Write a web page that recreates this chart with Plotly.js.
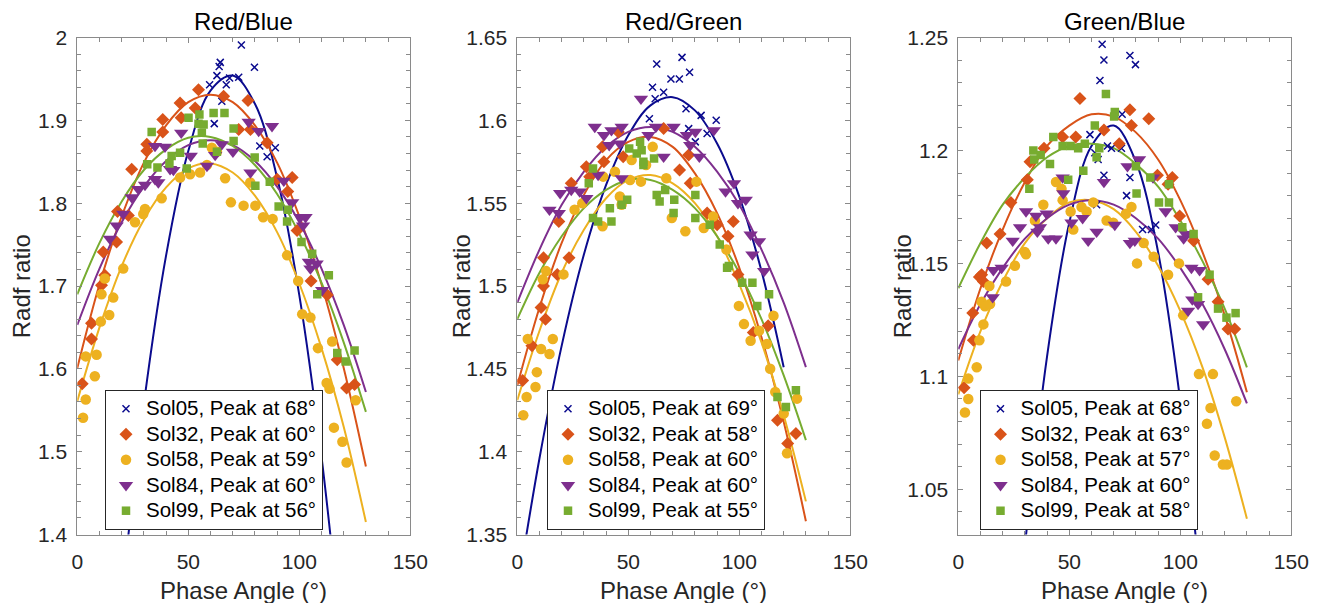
<!DOCTYPE html>
<html>
<head>
<meta charset="utf-8">
<script src="https://cdn.plot.ly/plotly-3.0.1.min.js"></script>
<style>
html,body{margin:0;padding:0;background:#fff;}
#chart{width:1325px;height:603px;}
</style>
</head>
<body>
<div id="chart"></div>
<script>
// ---------- categories / labels ----------
const SERIES = ['Sol05', 'Sol32', 'Sol58', 'Sol84', 'Sol99'];
const PANEL_TITLES = ['Red/Blue', 'Red/Green', 'Green/Blue'];
const PEAKS_RB = [68, 60, 59, 60, 56];
const PEAKS_RG = [69, 58, 60, 60, 55];
const PEAKS_GB = [68, 63, 57, 60, 58];
const X_TICKS = [0, 50, 100, 150];

// ---------- Red/Blue measurements [phase angle, ratio] ----------
const RB_05 = [[59.6,1.943],[61.7,1.896],[62.9,1.954],[63.9,1.965],[64.4,1.970],[65.1,1.923],[67.1,1.943],[68.6,1.951],[72.7,1.952],[73.9,1.991],[79.8,1.964],[82.2,1.869],[85.5,1.856],[89.2,1.867]];
const RB_32 = [[2.2,1.582],[6.4,1.636],[6.4,1.655],[10.9,1.701],[12.4,1.713],[11.7,1.741],[17.7,1.753],[18.1,1.790],[23.0,1.785],[24.5,1.841],[31.3,1.863],[31.3,1.871],[38.5,1.886],[38.5,1.901],[46.3,1.921],[46.8,1.903],[53.1,1.915],[54.6,1.937],[65.9,1.929],[72.7,1.889],[76.9,1.924],[78.0,1.889],[85.5,1.873],[90.0,1.829],[94.8,1.814],[96.8,1.831],[99.0,1.767],[105.3,1.706],[112.6,1.689],[117.1,1.611],[121.3,1.577],[124.9,1.581]];
const RB_58 = [[2.6,1.541],[3.8,1.563],[3.8,1.615],[7.9,1.591],[8.7,1.617],[10.6,1.657],[10.9,1.690],[12.4,1.709],[14.4,1.665],[16.2,1.686],[20.7,1.721],[26.0,1.777],[29.7,1.787],[30.5,1.793],[38.0,1.806],[46.3,1.831],[50.8,1.835],[55.3,1.837],[58.4,1.846],[60.6,1.867],[62.9,1.862],[66.6,1.830],[69.2,1.801],[74.9,1.797],[77.9,1.825],[80.2,1.797],[83.7,1.783],[88.0,1.781],[94.5,1.737],[99.5,1.706],[101.3,1.666],[105.0,1.662],[108.4,1.625],[112.3,1.583],[113.6,1.576],[114.8,1.633],[115.6,1.529],[119.4,1.512],[121.3,1.487],[125.4,1.562]];
const RB_84 = [[14.7,1.757],[17.7,1.773],[20.7,1.787],[24.5,1.807],[27.5,1.817],[30.5,1.822],[35.0,1.829],[35.0,1.869],[36.5,1.825],[39.5,1.868],[41.8,1.841],[43.3,1.840],[46.8,1.885],[51.1,1.857],[58.4,1.845],[62.1,1.858],[65.1,1.871],[70.1,1.862],[77.2,1.898],[78.0,1.837],[81.7,1.887],[87.7,1.893],[93.0,1.827],[96.8,1.801],[100.5,1.783],[101.7,1.773],[102.8,1.783],[104.3,1.729],[105.0,1.721],[107.8,1.727],[110.3,1.695]];
const RB_99 = [[31.5,1.847],[33.5,1.886],[36.1,1.843],[41.5,1.848],[42.5,1.857],[46.3,1.861],[49.3,1.842],[50.1,1.903],[54.6,1.896],[55.0,1.907],[56.1,1.885],[56.5,1.872],[56.9,1.895],[61.4,1.909],[62.9,1.862],[66.3,1.909],[70.4,1.890],[70.4,1.875],[79.9,1.855],[80.2,1.821],[86.7,1.826],[90.7,1.796],[94.5,1.778],[94.8,1.792],[101.0,1.753],[105.8,1.739],[108.1,1.690],[113.3,1.713],[117.1,1.619],[120.9,1.609],[124.9,1.622]];

// ---------- Red/Green measurements ----------
const RG_05 = [[59.5,1.601],[60.9,1.620],[62.1,1.613],[62.8,1.634],[65.9,1.617],[69.2,1.625],[73.0,1.625],[74.2,1.638],[76.0,1.607],[77.2,1.595],[77.6,1.629],[80.2,1.587],[82.8,1.603],[85.5,1.592],[89.6,1.600]];
const RG_32 = [[2.4,1.443],[6.6,1.464],[10.7,1.487],[11.8,1.500],[11.8,1.517],[12.7,1.480],[18.0,1.507],[18.7,1.539],[23.3,1.517],[24.3,1.562],[31.1,1.572],[32.6,1.566],[38.4,1.584],[39.0,1.575],[45.5,1.593],[47.7,1.578],[65.9,1.595],[73.1,1.570],[77.2,1.579],[77.9,1.562],[85.5,1.544],[90.0,1.537],[94.9,1.530],[97.3,1.539],[99.4,1.507],[106.3,1.472],[113.0,1.476],[117.2,1.419],[121.8,1.405],[125.5,1.411]];
const RG_58 = [[2.7,1.422],[4.2,1.433],[4.7,1.468],[8.2,1.439],[8.8,1.448],[10.7,1.462],[11.5,1.504],[13.0,1.509],[14.5,1.459],[16.0,1.468],[20.8,1.507],[25.8,1.546],[29.3,1.550],[38.4,1.536],[38.7,1.566],[44.0,1.569],[46.2,1.554],[47.0,1.549],[50.8,1.564],[51.5,1.576],[55.7,1.563],[58.0,1.573],[61.0,1.584],[67.1,1.565],[69.6,1.541],[75.7,1.533],[80.7,1.563],[84.0,1.535],[88.2,1.542],[94.2,1.522],[99.8,1.488],[102.1,1.477],[105.1,1.467],[108.9,1.473],[112.4,1.465],[113.9,1.450],[115.4,1.482],[116.2,1.436],[120.0,1.423],[121.5,1.399],[126.0,1.432]];
const RG_84 = [[14.5,1.546],[18.7,1.544],[19.3,1.556],[24.3,1.558],[28.1,1.557],[31.1,1.553],[34.9,1.596],[36.4,1.567],[39.0,1.591],[41.4,1.585],[42.4,1.594],[46.2,1.586],[47.0,1.596],[47.0,1.565],[55.7,1.613],[59.1,1.591],[62.4,1.596],[65.9,1.578],[70.4,1.596],[76.4,1.591],[77.9,1.585],[80.2,1.593],[82.0,1.578],[88.5,1.594],[93.8,1.557],[97.6,1.562],[99.4,1.550],[102.9,1.552],[105.1,1.531],[105.9,1.519],[108.9,1.527],[111.2,1.509]];
const RG_99 = [[32.2,1.562],[34.1,1.571],[34.1,1.541],[36.4,1.539],[41.7,1.547],[42.4,1.539],[47.0,1.549],[49.5,1.552],[50.4,1.583],[53.8,1.580],[55.3,1.587],[56.0,1.582],[56.8,1.575],[56.8,1.573],[61.6,1.577],[62.8,1.555],[64.1,1.551],[66.6,1.558],[70.4,1.544],[70.7,1.552],[80.2,1.555],[80.2,1.541],[86.7,1.537],[91.2,1.525],[94.5,1.511],[95.3,1.512],[101.3,1.502],[105.9,1.502],[108.1,1.488],[113.4,1.495],[117.2,1.433],[121.0,1.427],[125.5,1.437]];

// ---------- Green/Blue measurements ----------
const GB_05 = [[59.3,1.207],[61.5,1.199],[62.3,1.176],[63.0,1.196],[63.8,1.231],[64.8,1.247],[65.6,1.240],[65.6,1.189],[67.2,1.202],[69.0,1.201],[73.5,1.201],[73.8,1.216],[75.8,1.180],[77.3,1.242],[77.3,1.188],[79.8,1.238],[83.0,1.165],[87.0,1.165],[88.9,1.167]];
const GB_32 = [[2.6,1.095],[6.5,1.128],[6.8,1.116],[9.5,1.144],[10.5,1.145],[11.3,1.142],[12.8,1.159],[18.8,1.163],[23.7,1.177],[31.1,1.187],[32.3,1.195],[38.6,1.201],[47.0,1.206],[52.9,1.206],[54.8,1.223],[65.6,1.209],[72.5,1.203],[77.3,1.218],[78.0,1.211],[85.8,1.214],[89.7,1.189],[94.5,1.185],[96.4,1.188],[99.7,1.171],[106.0,1.160],[112.5,1.143],[117.0,1.133],[121.5,1.121],[124.5,1.121]];
const GB_58 = [[3.0,1.084],[4.5,1.090],[4.5,1.099],[8.3,1.104],[9.5,1.116],[10.5,1.133],[11.3,1.123],[12.0,1.131],[14.0,1.140],[14.3,1.132],[21.5,1.142],[25.5,1.149],[30.0,1.155],[30.5,1.154],[34.5,1.169],[38.3,1.176],[44.0,1.186],[46.5,1.183],[47.0,1.178],[50.6,1.173],[51.8,1.165],[55.5,1.175],[57.8,1.173],[60.8,1.177],[66.8,1.169],[69.8,1.168],[75.5,1.172],[78.0,1.175],[80.5,1.150],[83.5,1.159],[88.0,1.153],[94.5,1.145],[99.4,1.150],[101.3,1.127],[108.4,1.101],[112.0,1.079],[113.6,1.086],[114.7,1.101],[115.5,1.065],[119.2,1.061],[121.0,1.061],[125.2,1.089]];
const GB_84 = [[15.5,1.135],[15.8,1.147],[19.5,1.148],[24.5,1.160],[27.8,1.166],[30.5,1.173],[35.0,1.171],[35.6,1.164],[36.8,1.166],[39.8,1.172],[40.5,1.161],[44.0,1.161],[47.0,1.188],[47.3,1.181],[51.0,1.168],[56.0,1.170],[58.5,1.160],[62.3,1.164],[65.6,1.186],[70.5,1.167],[76.2,1.193],[77.3,1.159],[79.5,1.160],[81.4,1.196],[87.7,1.188],[93.4,1.173],[97.9,1.166],[101.5,1.161],[102.4,1.163],[103.5,1.129],[105.0,1.148],[105.4,1.134],[108.0,1.132],[108.7,1.147],[110.3,1.123]];
const GB_99 = [[32.0,1.183],[33.8,1.200],[34.2,1.196],[37.1,1.198],[41.3,1.194],[42.8,1.206],[47.0,1.202],[49.5,1.187],[50.6,1.202],[54.0,1.201],[56.3,1.191],[57.0,1.203],[61.5,1.211],[62.3,1.197],[63.5,1.201],[66.5,1.225],[70.2,1.215],[70.5,1.217],[80.0,1.193],[80.3,1.181],[86.5,1.188],[90.4,1.177],[94.9,1.185],[94.9,1.177],[100.9,1.166],[106.0,1.163],[108.0,1.135],[113.2,1.145],[117.0,1.130],[120.8,1.126],[124.9,1.128]];

// ---------- fitted curves ----------
const FIT_X = [0,10,20,30,40,50,60,70,80,90,100,110,120,130];
const FIT_X_05 = [20,30,40,50,60,70,80,90,100,110,120];
const FIT_X_05_GB = [20,25,30,40,50,60,70,80,90,100,110,120];
const RB_FIT_05 = [1.325,1.558,1.737,1.863,1.936,1.954,1.920,1.831,1.689,1.494,1.244];
const RB_FIT_32 = [1.601,1.702,1.784,1.849,1.894,1.922,1.931,1.922,1.894,1.849,1.784,1.702,1.601,1.482];
const RB_FIT_58 = [1.561,1.650,1.724,1.780,1.819,1.842,1.848,1.837,1.809,1.765,1.703,1.625,1.530,1.415];
const RB_FIT_84 = [1.653,1.721,1.777,1.820,1.851,1.870,1.876,1.870,1.851,1.820,1.777,1.721,1.653,1.572];
const RB_FIT_99 = [1.690,1.752,1.802,1.840,1.865,1.879,1.880,1.869,1.846,1.811,1.763,1.704,1.632,1.548];
const RG_FIT_05 = [1.464,1.519,1.561,1.591,1.609,1.614,1.606,1.586,1.554,1.509,1.451];
const RG_FIT_05_EXT = [1.316,1.396];
const RG_FIT_32 = [1.440,1.487,1.526,1.555,1.576,1.587,1.590,1.584,1.568,1.544,1.511,1.469,1.418,1.358];
const RG_FIT_58 = [1.431,1.473,1.508,1.534,1.553,1.564,1.567,1.562,1.550,1.530,1.501,1.466,1.422,1.370];
const RG_FIT_84 = [1.490,1.522,1.549,1.569,1.584,1.593,1.596,1.593,1.584,1.569,1.549,1.522,1.490,1.451];
const RG_FIT_99 = [1.480,1.508,1.530,1.547,1.558,1.564,1.564,1.558,1.547,1.530,1.508,1.480,1.446,1.407];
const GB_FIT_05 = [0.917,0.974,1.025,1.109,1.168,1.202,1.211,1.195,1.155,1.089,0.999,0.883];
const GB_FIT_32 = [1.107,1.139,1.165,1.186,1.202,1.211,1.216,1.215,1.208,1.196,1.178,1.155,1.127,1.093];
const GB_FIT_58 = [1.092,1.120,1.142,1.159,1.170,1.177,1.178,1.174,1.164,1.149,1.129,1.104,1.073,1.037];
const GB_FIT_84 = [1.112,1.132,1.148,1.161,1.170,1.176,1.178,1.176,1.170,1.161,1.148,1.132,1.112,1.088];
const GB_FIT_99 = [1.139,1.159,1.176,1.188,1.197,1.202,1.203,1.201,1.194,1.184,1.169,1.151,1.130,1.104];

// ---------- styles ----------
const COLORS = ['#0b0b8e', '#D95319', '#EDB120', '#7E2F8E', '#77AC30'];
const SYMBOLS = ['x-thin', 'diamond', 'circle', 'triangle-down', 'square'];
const SIZES = [7, 10, 10.5, 12.5, 8.5];
const FONT = 'Liberation Sans, Arial, Helvetica, sans-serif';

const panels = [
  {title: PANEL_TITLES[0], peaks: PEAKS_RB, pts: [RB_05, RB_32, RB_58, RB_84, RB_99],
   fits: [[FIT_X_05, RB_FIT_05], [FIT_X, RB_FIT_32], [FIT_X, RB_FIT_58], [FIT_X, RB_FIT_84], [FIT_X, RB_FIT_99]],
   yr: [1.4, 2], dt: 0.1, mdt: 0.02},
  {title: PANEL_TITLES[1], peaks: PEAKS_RG, pts: [RG_05, RG_32, RG_58, RG_84, RG_99],
   fits: [[[0, 10].concat(FIT_X_05), RG_FIT_05_EXT.concat(RG_FIT_05)], [FIT_X, RG_FIT_32], [FIT_X, RG_FIT_58], [FIT_X, RG_FIT_84], [FIT_X, RG_FIT_99]],
   yr: [1.35, 1.65], dt: 0.05, mdt: 0.01},
  {title: PANEL_TITLES[2], peaks: PEAKS_GB, pts: [GB_05, GB_32, GB_58, GB_84, GB_99],
   fits: [[FIT_X_05_GB, GB_FIT_05], [FIT_X, GB_FIT_32], [FIT_X, GB_FIT_58], [FIT_X, GB_FIT_84], [FIT_X, GB_FIT_99]],
   yr: [1.03, 1.25], dt: 0.05, mdt: 0.01}
];

// pixel geometry of the plotting boxes
const W = 1325, H = 603;
const BOX_L = [77.3, 517.3, 958.3], BOX_W = 333;
const BOX_T = 37.5, BOX_B = 534.5;
const LEG_L = [105, 547, 979.5], LEG_B = 530;

const traces = [];
const layout = {
  width: W, height: H,
  margin: {l: 0, r: 0, t: 0, b: 0},
  paper_bgcolor: '#ffffff', plot_bgcolor: '#ffffff',
  font: {family: FONT, color: '#262626'},
  showlegend: true,
  annotations: []
};

panels.forEach((p, i) => {
  const n = i === 0 ? '' : String(i + 1);
  const xa = 'x' + n, ya = 'y' + n;
  const legName = 'legend' + n;
  // fitted curves first (markers on top)
  p.fits.forEach((f, s) => {
    traces.push({
      x: f[0], y: f[1], xaxis: xa, yaxis: ya, type: 'scatter', mode: 'lines',
      line: {color: COLORS[s], width: 2, shape: 'spline', smoothing: 1.0},
      showlegend: false, hoverinfo: 'skip', cliponaxis: true
    });
  });
  p.pts.forEach((pts, s) => {
    const isX = SYMBOLS[s] === 'x-thin';
    traces.push({
      x: pts.map(d => d[0]), y: pts.map(d => d[1]), xaxis: xa, yaxis: ya,
      type: 'scatter', mode: 'markers',
      name: '<span style="font-size:20.5px">' + SERIES[s] + ', Peak at ' + p.peaks[s] + '°</span>',
      legend: legName,
      marker: {symbol: SYMBOLS[s], size: SIZES[s], color: COLORS[s],
               line: isX ? {color: COLORS[s], width: 1.5} : {width: 0}},
      cliponaxis: true
    });
  });
  const x0 = BOX_L[i] / W, x1 = (BOX_L[i] + BOX_W) / W;
  const y0 = (H - BOX_B) / H, y1 = (H - BOX_T) / H;
  const common = {
    showline: true, linecolor: '#8a8a8a', linewidth: 1, mirror: 'ticks',
    ticks: 'inside', ticklen: 5, tickwidth: 1, tickcolor: '#8a8a8a',
    showgrid: false, zeroline: false, fixedrange: true,
    tickfont: {family: FONT, size: 21, color: '#262626'}
  };
  layout['xaxis' + n] = Object.assign({}, common, {
    domain: [x0, x1], anchor: ya, range: [0, 150],
    tickvals: X_TICKS, ticktext: X_TICKS.map(String),
    minor: {dtick: 10, tick0: 0, ticks: 'inside', ticklen: 4, tickcolor: '#8a8a8a', showgrid: false},
    ticklabelstandoff: 8
  });
  layout['yaxis' + n] = Object.assign({}, common, {
    domain: [y0, y1], anchor: xa, range: p.yr,
    dtick: p.dt, tick0: 0,
    minor: {dtick: p.mdt, tick0: 0, ticks: 'inside', ticklen: 4, tickcolor: '#8a8a8a', showgrid: false},
    ticklabelstandoff: 5
  });
  layout[legName] = {
    x: LEG_L[i] / W, y: (H - LEG_B) / H, xanchor: 'left', yanchor: 'bottom',
    xref: 'paper', yref: 'paper',
    bgcolor: '#ffffff', bordercolor: '#262626', borderwidth: 1,
    font: {family: FONT, size: 17.3, color: '#000000'},
    itemsizing: 'trace', tracegroupgap: 0
  };
  const cx = (BOX_L[i] + BOX_W / 2) / W;
  layout.annotations.push({
    text: p.title, xref: 'paper', yref: 'paper', x: cx, y: (H - 22) / H,
    xanchor: 'center', yanchor: 'middle', showarrow: false,
    font: {family: FONT, size: 24, color: '#000000'}
  });
  layout.annotations.push({
    text: 'Phase Angle (°)', xref: 'paper', yref: 'paper', x: cx, y: (H - 590) / H,
    xanchor: 'center', yanchor: 'middle', showarrow: false,
    font: {family: FONT, size: 24, color: '#262626'}
  });
  layout.annotations.push({
    text: 'Radf ratio', xref: 'paper', yref: 'paper', x: (BOX_L[i] - 55) / W, y: (H - 286) / H,
    xanchor: 'center', yanchor: 'middle', showarrow: false, textangle: -90,
    font: {family: FONT, size: 24, color: '#262626'}
  });
});

Plotly.newPlot('chart', traces, layout, {displayModeBar: false, staticPlot: true});
</script>
</body>
</html>
